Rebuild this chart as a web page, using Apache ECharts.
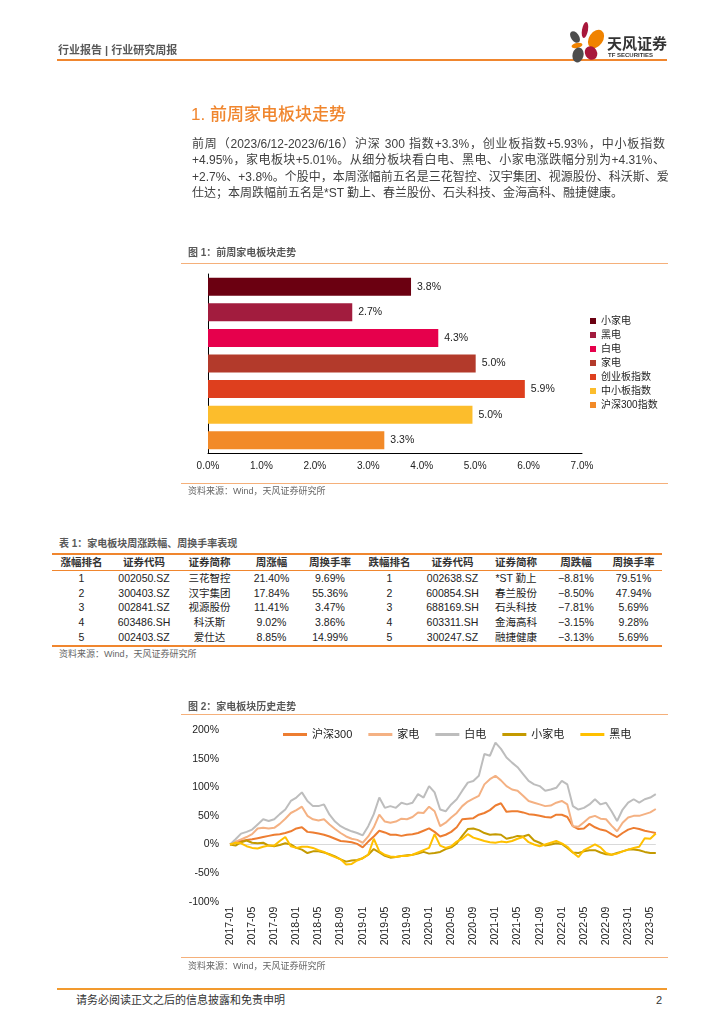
<!DOCTYPE html>
<html lang="zh-CN">
<head>
<meta charset="utf-8">
<script src="https://cdn.jsdelivr.net/npm/echarts@6/dist/echarts.min.js"></script>
<style>
  html,body{margin:0;padding:0;background:#fff;}
  body{width:724px;height:1024px;position:relative;overflow:hidden;font-family:"Liberation Sans","Noto Sans CJK SC",sans-serif;}
  .abs{position:absolute;white-space:nowrap;z-index:2;}
  .rule{position:absolute;z-index:2;}
  #c1{position:absolute;left:0;top:0;width:724px;height:500px;z-index:1;}
  #c2{position:absolute;left:0;top:680px;width:724px;height:300px;z-index:1;}
  .para{position:absolute;left:192px;top:135.75px;width:473px;font-size:12px;line-height:16.5px;color:#404040;z-index:2;}
  .para div{text-align:justify;text-align-last:justify;white-space:nowrap;}
  .para div.last{text-align:left;text-align-last:left;}
  .figt{font-size:10px;font-weight:bold;color:#595959;line-height:14px;}
  .src{font-size:9px;color:#666;line-height:12px;}
  table{position:absolute;left:52px;top:553px;width:610px;border-collapse:collapse;table-layout:fixed;z-index:2;
        font-size:10.5px;color:#222;}
  table td,table th{padding:0;text-align:center;white-space:nowrap;}
  table th{height:15px;line-height:15px;font-weight:bold;color:#333;border-top:2px solid #F0862E;border-bottom:1.5px solid #F0862E;}
  table td{height:14.7px;line-height:14.7px;}
  table tr.lastrow td{border-bottom:2px solid #F0862E;}
</style>
</head>
<body>
<!-- header -->
<div class="abs" style="left:58px;top:43px;font-size:11px;line-height:14px;font-weight:bold;color:#595959;">行业报告 | 行业研究周报</div>
<div class="rule" style="left:57px;top:59px;width:610px;height:2px;background:#F0862E;"></div>
<svg class="abs" style="left:566px;top:18px;" width="42" height="48" viewBox="0 0 42 48">
  <ellipse cx="19" cy="12" rx="3" ry="8" fill="#A8173B" transform="rotate(10 19 12)"/>
  <ellipse cx="30" cy="21" rx="7" ry="10" fill="#F08300" transform="rotate(35 30 21)"/>
  <ellipse cx="9" cy="19" rx="4" ry="6.5" fill="#4D4D4D" transform="rotate(-35 9 19)"/>
  <ellipse cx="11" cy="27.5" rx="5.5" ry="2.5" fill="#F08300" transform="rotate(-10 11 27.5)"/>
  <ellipse cx="25" cy="35" rx="6" ry="7" fill="#A8173B" transform="rotate(-30 25 35)"/>
  <ellipse cx="12" cy="37" rx="5.5" ry="7.5" fill="#4D4D4D" transform="rotate(15 12 37)"/>
</svg>
<div class="abs" style="left:607px;top:35px;font-size:15px;line-height:18px;font-weight:bold;color:#333;">天风证券</div>
<div class="abs" style="left:608px;top:52px;font-size:6px;line-height:7px;font-weight:bold;color:#333;">TF SECURITIES</div>

<!-- heading & paragraph -->
<div class="abs" style="left:191px;top:104px;font-size:17px;line-height:22px;font-weight:500;color:#F0862E;">1. 前周家电板块走势</div>
<div class="para">
  <div>前周（2023/6/12-2023/6/16）沪深 300 指数+3.3%，创业板指数+5.93%，中小板指数</div>
  <div>+4.95%，家电板块+5.01%。从细分板块看白电、黑电、小家电涨跌幅分别为+4.31%、</div>
  <div>+2.7%、+3.8%。个股中，本周涨幅前五名是三花智控、汉宇集团、视源股份、科沃斯、爱</div>
  <div class="last">仕达；本周跌幅前五名是*ST 勤上、春兰股份、石头科技、金海高科、融捷健康。</div>
</div>

<!-- figure 1 -->
<div class="abs figt" style="left:188px;top:246px;">图 1：前周家电板块走势</div>
<div class="rule" style="left:181px;top:263px;width:487px;height:1px;background:#F5B07A;"></div>
<div class="rule" style="left:181px;top:483px;width:487px;height:1px;background:#F5B07A;"></div>
<div class="abs src" style="left:188px;top:485px;">资料来源：Wind，天风证券研究所</div>

<!-- table -->
<div class="abs figt" style="left:59px;top:537px;">表 1：家电板块周涨跌幅、周换手率表现</div>
<table id="tbl"></table>
<div class="abs src" style="left:59px;top:648px;">资料来源：Wind，天风证券研究所</div>

<!-- figure 2 -->
<div class="abs figt" style="left:188px;top:700px;">图 2：家电板块历史走势</div>
<div class="rule" style="left:181px;top:714px;width:487px;height:1px;background:#F5B07A;"></div>
<div class="rule" style="left:181px;top:957px;width:487px;height:1px;background:#F5B07A;"></div>
<div class="abs src" style="left:188px;top:960px;">资料来源：Wind，天风证券研究所</div>

<!-- footer -->
<div class="rule" style="left:57px;top:988px;width:610px;height:2px;background:#F29A2E;"></div>
<div class="abs" style="left:76px;top:992px;font-size:11px;line-height:16px;color:#333;">请务必阅读正文之后的信息披露和免责申明</div>
<div class="abs" style="left:656px;top:992px;font-size:11px;line-height:16px;color:#333;">2</div>

<div id="c1"></div>
<div id="c2"></div>

<script>
// ---------- Figure 1 data ----------
const barCats = ['小家电','黑电','白电','家电','创业板指数','中小板指数','沪深300指数'];
const barVals = [3.8, 2.7, 4.31, 5.01, 5.93, 4.95, 3.3];
const barColors = ['#6B0011','#A21C3E','#E6004C','#B33A2B','#DE3F1E','#FCBD2C','#F28A28'];

// ---------- Table data ----------
const tblHeaders = ['涨幅排名','证券代码','证券简称','周涨幅','周换手率','跌幅排名','证券代码','证券简称','周跌幅','周换手率'];
const gainRank = ['1','2','3','4','5'];
const gainCodes = ['002050.SZ','300403.SZ','002841.SZ','603486.SH','002403.SZ'];
const gainNames = ['三花智控','汉宇集团','视源股份','科沃斯','爱仕达'];
const gainChg = ['21.40%','17.84%','11.41%','9.02%','8.85%'];
const gainTurn = ['9.69%','55.36%','3.47%','3.86%','14.99%'];
const loseRank = ['1','2','3','4','5'];
const loseCodes = ['002638.SZ','600854.SH','688169.SH','603311.SH','300247.SZ'];
const loseNames = ['*ST 勤上','春兰股份','石头科技','金海高科','融捷健康'];
const loseChg = ['−8.81%','−8.50%','−7.81%','−3.15%','−3.13%'];
const loseTurn = ['79.51%','47.94%','5.69%','9.28%','5.69%'];

// ---------- Figure 2 data (monthly readings, %) ----------
const months = [
 '2017-01','2017-02','2017-03','2017-04','2017-05','2017-06','2017-07','2017-08','2017-09','2017-10','2017-11','2017-12',
 '2018-01','2018-02','2018-03','2018-04','2018-05','2018-06','2018-07','2018-08','2018-09','2018-10','2018-11','2018-12',
 '2019-01','2019-02','2019-03','2019-04','2019-05','2019-06','2019-07','2019-08','2019-09','2019-10','2019-11','2019-12',
 '2020-01','2020-02','2020-03','2020-04','2020-05','2020-06','2020-07','2020-08','2020-09','2020-10','2020-11','2020-12',
 '2021-01','2021-02','2021-03','2021-04','2021-05','2021-06','2021-07','2021-08','2021-09','2021-10','2021-11','2021-12',
 '2022-01','2022-02','2022-03','2022-04','2022-05','2022-06','2022-07','2022-08','2022-09','2022-10','2022-11','2022-12',
 '2023-01','2023-02','2023-03','2023-04','2023-05','2023-06'];
const lineNames = ['沪深300','家电','白电','小家电','黑电'];
const hs300 = [0,3,6,8,9,11,13,15,17,18, 20,23,28,30,22,21,19,17,14,10, 6,5,4,1,-5,5,14,24,21,17,
  17,15,17,18,20,24,28,22,14,17, 22,30,44,45,46,52,55,60,68,72, 57,58,58,56,53,52,50,48,47,52,
  52,48,32,27,28,36,30,26,24,18, 13,20,26,29,27,24,22,20];
const jiadian = [0,5,9,13,18,28,29,28,29,36, 45,55,60,66,50,44,42,44,35,27, 20,14,10,8,3,14,30,52,40,38,
  40,45,44,48,56,55,66,58,32,38, 47,55,67,75,80,85,105,114,120,112, 102,96,94,85,76,73,70,67,68,73,
  76,70,32,31,39,47,50,45,44,33, 23,38,47,50,50,53,56,62];
const baidian = [0,9,19,22,26,35,44,41,44,53, 61,76,82,91,76,67,67,70,52,40, 32,27,23,20,16,32,53,82,64,67,
  64,73,70,73,88,82,102,91,61,58, 70,79,94,108,111,120,158,155,178,167, 152,143,135,123,111,105,102,94,96,99,
  111,105,67,61,64,70,79,70,73,58, 41,61,73,79,73,79,82,88];
const xiaojiadian = [0,-2,4,7,3,2,3,-2,-3,-1, 2,0,-6,-9,-15,-12,-12,-14,-17,-21, -26,-30,-28,-27,-24,-18,-8,-14,-20,-23,
  -22,-20,-19,-18,-16,-13,-16,-15,-13,-8, -5,2,15,27,28,25,20,17,18,17, 10,12,15,14,17,7,3,-2,0,2,
  1,-6,-14,-15,-12,-10,-10,-14,-17,-18, -15,-12,-9,-9,-10,-13,-15,-15];
const heidian = [0,3,2,-3,-6,-7,-4,-2,-2,6, 13,-3,-6,-4,-4,-6,-10,-13,-18,-22, -26,-35,-34,-28,-24,-18,10,-12,-18,-21,
  -22,-20,-20,-18,-14,-10,-6,18,-2,-6, -3,5,10,18,12,9,6,4,3,5, 4,6,10,13,4,0,-3,0,3,6,
  2,-4,-14,-22,-10,-5,0,-5,-15,-18, -16,-12,-9,-6,-4,11,10,19];
const lineColors = ['#ED7D31','#F4B183','#BDBDBD','#C49A00','#FFC000'];

const FF = '"Liberation Sans","Noto Sans CJK SC",sans-serif';

// ---------- build table ----------
(function(){
  const widths = [59,66,65,59,58,61,65,62,58,57];
  let h = '<colgroup>' + widths.map(w=>'<col style="width:'+w+'px">').join('') + '</colgroup>';
  h += '<tr>' + tblHeaders.map(t=>'<th>'+t+'</th>').join('') + '</tr>';
  for (let i=0;i<5;i++){
    const cells = [gainRank[i],gainCodes[i],gainNames[i],gainChg[i],gainTurn[i],loseRank[i],loseCodes[i],loseNames[i],loseChg[i],loseTurn[i]];
    h += '<tr' + (i===4?' class="lastrow"':'') + '>' + cells.map(c=>'<td>'+c+'</td>').join('') + '</tr>';
  }
  document.getElementById('tbl').innerHTML = h;
})();

// ---------- Figure 1 ----------
const c1 = echarts.init(document.getElementById('c1'));
c1.setOption({
  animation:false,
  textStyle:{fontFamily:FF},
  grid:{left:208, top:274, width:374, height:179},
  xAxis:{type:'value', min:0, max:7, interval:1,
    axisLine:{show:true, lineStyle:{color:'#000', width:1}},
    axisTick:{show:false}, splitLine:{show:false},
    axisLabel:{formatter:v=>v.toFixed(1)+'%', fontSize:10, color:'#222', margin:8, fontFamily:FF}},
  yAxis:{type:'category', data:barCats, inverse:true,
    axisLine:{show:true, lineStyle:{color:'#000', width:1}},
    axisTick:{show:false}, axisLabel:{show:false}},
  legend:{orient:'vertical', left:585, top:310, itemWidth:6, itemHeight:6, itemGap:2, icon:'rect',
    textStyle:{fontSize:10, color:'#222', lineHeight:12, fontFamily:FF}, data:barCats},
  series: barCats.map((c,i)=>({
    type:'bar', name:c, barWidth:18, barGap:'-100%',
    data: barCats.map((_,j)=> j===i ? barVals[i] : null),
    itemStyle:{color:barColors[i]},
    label:{show:true, position:'right', distance:6, fontSize:10.5, color:'#222', fontFamily:FF,
      formatter:p=> (p.value==null ? '' : p.value.toFixed(1)+'%')}
  }))
});

// ---------- Figure 2 ----------
const lineData = [hs300, jiadian, baidian, xiaojiadian, heidian];
const T = 'rgba(0,0,0,0)';
const c2 = echarts.init(document.getElementById('c2'));
c2.setOption({
  animation:false,
  textStyle:{fontFamily:FF},
  grid:{left:230, top:50, width:425.8, height:171.7},
  legend:{left:278, top:44, itemWidth:24, itemHeight:3, itemGap:16, icon:'rect',
    textStyle:{fontSize:11, color:'#222', fontFamily:FF}, data:lineNames},
  xAxis:{type:'category', data:months, boundaryGap:false,
    axisLine:{show:false}, axisTick:{show:false},
    axisLabel:{rotate:90, interval:3, fontSize:10.5, color:'#222', margin:5, fontFamily:FF}},
  yAxis:{type:'value', min:-100, max:200, interval:50,
    axisLine:{show:false}, axisTick:{show:false},
    axisLabel:{formatter:'{value}%', fontSize:10.5, color:'#222', margin:11, fontFamily:FF},
    splitLine:{show:true, lineStyle:{width:1, color:[T,T,'#D9D9D9',T,T,T,T]}}},
  series: lineNames.map((n,i)=>({
    type:'line', name:n, data:lineData[i], symbol:'none', showSymbol:false,
    lineStyle:{width:2, color:lineColors[i]}, itemStyle:{color:lineColors[i]}
  }))
});
</script>
</body>
</html>
